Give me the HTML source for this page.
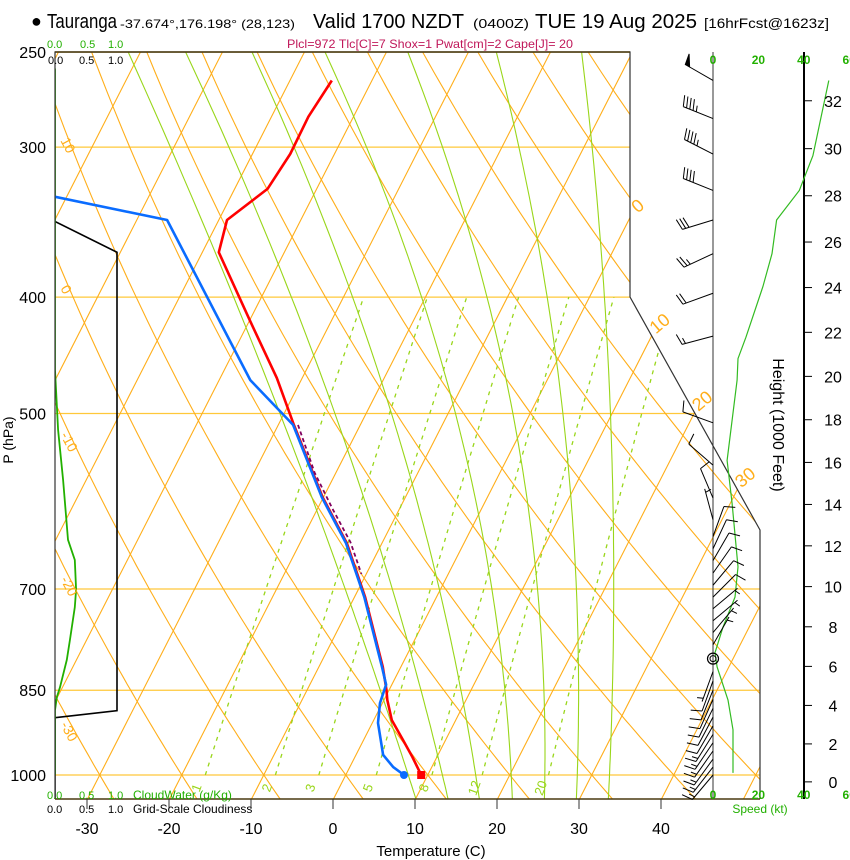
<!DOCTYPE html>
<html><head><meta charset="utf-8"><title>Skew-T Tauranga</title>
<style>
html,body{margin:0;padding:0;background:#fff;}
svg{display:block;font-family:"Liberation Sans",sans-serif;}
</style></head>
<body>
<svg id="chart" width="850" height="860" viewBox="0 0 850 860" xmlns="http://www.w3.org/2000/svg">
<defs>
<clipPath id="plotclip"><polygon points="55,52 630,52 630,297 760,530 760,799 55,799"/></clipPath>
<clipPath id="boxclip"><rect x="55" y="52" width="705" height="747"/></clipPath>
</defs>
<g id="grid" clip-path="url(#plotclip)"></g>
<g id="profiles" clip-path="url(#boxclip)"></g>
<g id="frame"></g>
<g id="wind"></g>
<g id="labels">
  <text x="31" y="27" font-size="18">●</text>
  <text x="47" y="28" font-size="20" textLength="70" lengthAdjust="spacingAndGlyphs">Tauranga</text>
  <text x="120" y="28" font-size="12" textLength="175" lengthAdjust="spacingAndGlyphs">-37.674°,176.198° (28,123)</text>
  <text x="313" y="28" font-size="20" textLength="151" lengthAdjust="spacingAndGlyphs">Valid 1700 NZDT</text>
  <text x="473" y="28" font-size="13" textLength="56" lengthAdjust="spacingAndGlyphs">(0400Z)</text>
  <text x="535" y="28" font-size="20" textLength="162" lengthAdjust="spacingAndGlyphs">TUE 19 Aug 2025</text>
  <text x="704" y="28" font-size="14" textLength="125" lengthAdjust="spacingAndGlyphs">[16hrFcst@1623z]</text>
  <text x="287" y="48" font-size="12" fill="#c0185a" textLength="286" lengthAdjust="spacingAndGlyphs">Plcl=972 Tlc[C]=7 Shox=1 Pwat[cm]=2 Cape[J]= 20</text>
  <text x="47" y="48" font-size="11" fill="#22b000">0.0</text>
  <text x="80" y="48" font-size="11" fill="#22b000">0.5</text>
  <text x="108" y="48" font-size="11" fill="#22b000">1.0</text>
  <text x="48" y="64" font-size="11">0.0</text>
  <text x="79" y="64" font-size="11">0.5</text>
  <text x="108" y="64" font-size="11">1.0</text>
  <text x="47" y="799" font-size="11" fill="#22b000">0.0</text>
  <text x="79" y="799" font-size="11" fill="#22b000">0.5</text>
  <text x="108" y="799" font-size="11" fill="#22b000">1.0</text>
  <text x="133" y="799" font-size="12" fill="#22b000">CloudWater (g/Kg)</text>
  <text x="47" y="813" font-size="11">0.0</text>
  <text x="79" y="813" font-size="11">0.5</text>
  <text x="108" y="813" font-size="11">1.0</text>
  <text x="133" y="813" font-size="12">Grid-Scale Cloudiness</text>
  <text x="431" y="856" font-size="15" text-anchor="middle">Temperature (C)</text>
  <text transform="translate(13,440) rotate(-90)" font-size="14" text-anchor="middle">P (hPa)</text>
  <text transform="translate(773,425) rotate(90)" font-size="16" text-anchor="middle">Height (1000 Feet)</text>
  <text x="760" y="813" font-size="12" fill="#22b000" text-anchor="middle">Speed (kt)</text>
</g>
</svg>
<script>
// ---------- data ----------
const tempP = [1000, 966, 935, 900, 866, 850, 813, 711, 641, 587, 511, 467, 418, 367, 345, 325, 304, 283, 264];
const tempT = [9.2, 7.0, 4.8, 2.2, 0.4, -0.3, -2.2, -8.7, -14.3, -20.1, -28.1, -33.1, -40.0, -48.0, -49.0, -46.0, -45.4, -45.5, -44.9];
const dewP = [1000, 985, 962, 905, 871, 841, 813, 711, 641, 587, 511, 469, 345, 330, 315];
const dewT = [7.1, 5.3, 3.3, 0.7, -0.3, -0.7, -2.3, -8.8, -14.4, -20.2, -28.2, -36.2, -56.3, -71.4, -86];
const parcelP = [511, 560, 600, 640, 680];
const parcelT = [-27.6, -22.6, -18.2, -13.9, -10.6];
const cloudFracP = [346, 367, 884, 896, 1050];
const cloudFrac = [0, 1, 1, 0, 0];
const cloudWaterP = [258, 460, 516, 568, 637, 662, 701, 725, 772, 802, 845, 861, 883, 1000];
const cloudWater = [0, 0, 0.05, 0.13, 0.21, 0.32, 0.34, 0.32, 0.24, 0.19, 0.08, 0.03, 0, 0];
const windP = [264, 284, 304, 326, 345, 368, 397, 431, 509, 552, 588, 613, 633, 648, 663, 679, 695, 711, 727, 744, 761, 779, 820, 835, 850, 865, 880, 895, 910, 925, 940, 955, 970, 985, 1000];
const windDir = [300, 292, 297, 292, 253, 245, 250, 255, 290, 311, 337, 345, 20, 25, 30, 35, 40, 45, 50, 50, 40, 30, 200, 200, 202, 204, 206, 208, 210, 212, 214, 215, 216, 218, 220];
const windSpd = [50, 45, 45, 40, 30, 25, 20, 15, 10, 10, 10, 5, 10, 10, 10, 10, 10, 10, 5, 5, 5, 5, 5, 10, 10, 10, 10, 10, 10, 15, 15, 15, 15, 15, 15];
const speedP = [264, 305, 326, 345, 368, 392, 432, 450, 469, 547, 594, 671, 711, 753, 791, 813, 866, 917, 996];
const speedKt = [51, 44, 38, 28, 26, 22, 14.5, 11, 10.6, 6.2, 8.4, 11, 9.7, 4.4, 0.9, 1.8, 6.6, 8.8, 8.8];
const pressureTicks = [250, 300, 400, 500, 700, 850, 1000];
const tempTicks = [-30, -20, -10, 0, 10, 20, 30, 40];
const heightTicks = [0, 2, 4, 6, 8, 10, 12, 14, 16, 18, 20, 22, 24, 26, 28, 30, 32];
const speedTicks = [0, 20, 40, 60];
const isotherms = [-130,-120,-110,-100,-90,-80,-70,-60,-50,-40,-30,-20,-10,0,10,20,30,40,50];
const isothermLabels = [0, 10, 20, 30];
const dryAdiabats = [-60,-50,-40,-30,-20,-10,0,10,20,30,40,50,60,70,80,90,100,110,120,130,140,150,160,170,180,190,200];
const dryLabels = [10, 0, -10, -20, -30];
const mixRatios = [1, 2, 3, 5, 8, 12, 20];
const moistT250 = [-71.5, -64.5, -56.4, -47.5, -37.4, -26.6, -16.2];
const moistT500 = [-30.5, -23.8, -16.9, -9.1, -2.1, 4.0, 9.8];
const moistT1050 = [10.2, 14.1, 17.9, 21.9, 25.8, 29.7, 33.6];
const lclP = 800;

// ---------- scales ----------
const NS = 'http://www.w3.org/2000/svg';
function yP(p){ return 775 - 521.5*Math.log(1000/p); }
function xT(T,p){ return 333 + 8.2*T + 0.51*(800 - yP(p)); }
function xCloud(v){ return 55 + 62*v; }
function xSpd(s){ return 713 + 2.27*s; }
function pOfH(h){ const m=h*304.8; return 1013.25*Math.pow(1-6.5e-3*m/288.15,5.256); }
function mk(tag, attrs, parent){ const e=document.createElementNS(NS,tag); for(const k in attrs) e.setAttribute(k,attrs[k]); parent.appendChild(e); return e; }
function pts(arr){ return arr.map(a=>a[0].toFixed(1)+','+a[1].toFixed(1)).join(' '); }

const grid=document.getElementById('grid');
const prof=document.getElementById('profiles');
const frame=document.getElementById('frame');
const wind=document.getElementById('wind');
const labels=document.getElementById('labels');

// isobars
pressureTicks.forEach(p=>{
  const l=mk('line',{x1:55,x2:760,y1:yP(p),y2:yP(p),stroke:'#ffc83a','stroke-width':1.2},grid);
  
  
});
// isotherms
isotherms.forEach(T=>{
  const l=mk('line',{x1:xT(T,1050),y1:yP(1050),x2:xT(T,250),y2:yP(250),stroke:'#ffae1a','stroke-width':1.1},grid);
  
  
});
// dry adiabats
dryAdiabats.forEach(th=>{
  const a=[];
  for(let p=1050;p>=245;p-=10){ const T=(th+273.15)*Math.pow(p/1000,0.286)-273.15; a.push([xT(T,p),yP(p)]); }
  const l=mk('polyline',{points:pts(a),fill:'none',stroke:'#ffae1a','stroke-width':1.1},grid);
  
  
});
// moist adiabats
const la=Math.log(250), lb=Math.log(500), lc=Math.log(1050);
moistT250.forEach((t1,i)=>{
  const t2=moistT500[i], t3=moistT1050[i];
  const a=[];
  for(let p=1050;p>=245;p-=10){
    const x=Math.log(p);
    const T=t1*(x-lb)*(x-lc)/((la-lb)*(la-lc))+t2*(x-la)*(x-lc)/((lb-la)*(lb-lc))+t3*(x-la)*(x-lb)/((lc-la)*(lc-lb));
    a.push([xT(T,p),yP(p)]);
  }
  const l=mk('polyline',{points:pts(a),fill:'none',stroke:'#99d61a','stroke-width':1.1},grid);
  
  
});
// mixing ratio lines
function tdOf(w,p){ const e=w*p/(622+w); const L=Math.log(e/6.112); return 243.5*L/(17.67-L); }
mixRatios.forEach(w=>{
  const a=[];
  for(let p=1000;p>=400;p-=10) a.push([xT(tdOf(w,p),p),yP(p)]);
  const l=mk('polyline',{points:pts(a),fill:'none',stroke:'#99d61a','stroke-width':1.3,'stroke-dasharray':'4,5'},grid);
  
  
  const p=1028, x=xT(tdOf(w,p),p), y=yP(p);
  const t=mk('text',{x:x,y:y,'font-size':13,fill:'#99d61a','text-anchor':'middle',transform:`rotate(-70 ${x} ${y})`},grid);
  t.textContent=String(w);
  
  
});
// dry adiabat labels (left)
dryLabels.forEach(th=>{
  let best=null;
  for(let p=250;p<=1050;p+=1){ const T=(th+273.15)*Math.pow(p/1000,0.286)-273.15; const x=xT(T,p); if(x>=62){best=p;break;} }
  if(best===null) return;
  const y=yP(best)+20;
  const t=mk('text',{x:58,y:y,'font-size':14,fill:'#ffae1a',transform:`rotate(62 62 ${y})`},labels);
  t.textContent=String(th);
  
  
});
// isotherm labels (right)
isothermLabels.forEach(T=>{
  let py=null;
  for(let p=250;p<=1050;p+=1){ const y=yP(p); const bx = y<=297?630:630+0.558*(y-297); if(xT(T,p)<=bx){py=p;break;} }
  if(py===null) return;
  const x=xT(T,py)+12, y=yP(py)-8;
  const t=mk('text',{x:x,y:y,'font-size':18,fill:'#ffae1a','text-anchor':'middle',transform:`rotate(-40 ${x} ${y})`},labels);
  t.textContent=String(T);
  
  
});

// ---------- profiles ----------
function line(P,V,fx,attrs,name){
  const a=P.map((p,i)=>[fx(V[i],p),yP(p)]);
  const l=mk('polyline',Object.assign({points:pts(a),fill:'none'},attrs),prof);
  
  
  return l;
}
line(cloudFracP,cloudFrac,(v)=>xCloud(v),{stroke:'#000','stroke-width':1.6},'cloudiness-line');
line(cloudWaterP,cloudWater,(v)=>xCloud(v),{stroke:'#22b000','stroke-width':1.8},'cloudwater-line');
line(tempP,tempT,xT,{stroke:'#ff0000','stroke-width':2.6,'stroke-linejoin':'round'},'temperature-line');
line(dewP,dewT,xT,{stroke:'#0a6cff','stroke-width':2.6,'stroke-linejoin':'round'},'dewpoint-line');
line(parcelP,parcelT,xT,{stroke:'#800060','stroke-width':1.8,'stroke-dasharray':'4,3'},'parcel-line');
const td=mk('circle',{cx:xT(dewT[0],dewP[0]),cy:yP(dewP[0]),r:4,fill:'#0a6cff'},prof);


const tt=mk('rect',{x:xT(tempT[0],tempP[0])-4,y:yP(tempP[0])-4,width:8,height:8,fill:'#ff0000'},prof);



// ---------- frame ----------
const fr=mk('polyline',{points:'55,799 55,52 630,52 630,297 760,530 760,799',fill:'none',stroke:'#333','stroke-width':1.2},frame);


const bl=mk('line',{x1:55,x2:760,y1:799,y2:799,stroke:'#4a3a10','stroke-width':1.5},frame);


const tl=mk('line',{x1:55,x2:630,y1:52,y2:52,stroke:'#4a3a10','stroke-width':1.5},frame);


pressureTicks.forEach(p=>{
  const t=mk('text',{x:46,y:yP(p)+6,'font-size':16,'text-anchor':'end'},labels);
  t.textContent=String(p);
  
  
});
tempTicks.forEach(T=>{
  const x=333+8.2*T;
  const k=mk('line',{x1:x,x2:x,y1:799,y2:809,stroke:'#333','stroke-width':1},frame);
  
  
  const t=mk('text',{x:x,y:834,'font-size':16,'text-anchor':'middle'},labels);
  t.textContent=String(T);
  
  
});

// ---------- wind panel ----------
const staff=mk('line',{x1:713,x2:713,y1:52,y2:799,stroke:'#333','stroke-width':1},wind);


const hax=mk('line',{x1:804,x2:804,y1:52,y2:799,stroke:'#000','stroke-width':2},wind);


heightTicks.forEach(h=>{
  const y=yP(pOfH(h));
  const k=mk('line',{x1:804,x2:812,y1:y,y2:y,stroke:'#000','stroke-width':1},wind);
  
  
  const t=mk('text',{x:833,y:y+6,'font-size':16,'text-anchor':'middle'},labels);
  t.textContent=String(h);
  
  
});
speedTicks.forEach(s=>{
  [64,799].forEach(yy=>{
    const t=mk('text',{x:xSpd(s),y:yy,'font-size':12,fill:'#22b000','font-weight':'bold','text-anchor':'middle'},labels);
    t.textContent=String(s);
    
    
  });
});
// speed curve
(function(){
  const a=speedP.map((p,i)=>[xSpd(speedKt[i]),yP(p)]);
  const l=mk('polyline',{points:pts(a),fill:'none',stroke:'#33bb22','stroke-width':1.2},wind);
  
  
})();
// barbs
windP.forEach((p,i)=>{
  const g=mk('g',{},wind);
  
  
  const sx=713, sy=yP(p), r=windDir[i]*Math.PI/180;
  const ux=Math.sin(r), uy=-Math.cos(r), L=32;
  const tx=sx+ux*L, ty=sy+uy*L;
  const px=-uy, py=ux;
  let d=`M${sx},${sy}L${tx.toFixed(1)},${ty.toFixed(1)}`;
  let s=Math.round(windSpd[i]/5)*5, pos=0;
  while(s>=50){
    const bx=tx-ux*pos, by=ty-uy*pos;
    d+=`M${bx.toFixed(1)},${by.toFixed(1)}L${(bx+px*11+ux*2).toFixed(1)},${(by+py*11+uy*2).toFixed(1)}L${(bx-ux*5).toFixed(1)},${(by-uy*5).toFixed(1)}Z`;
    pos+=6; s-=50;
  }
  while(s>=10){
    const bx=tx-ux*pos, by=ty-uy*pos;
    d+=`M${bx.toFixed(1)},${by.toFixed(1)}L${(bx+px*11+ux*3).toFixed(1)},${(by+py*11+uy*3).toFixed(1)}`;
    pos+=3.5; s-=10;
  }
  if(s>=5){
    if(pos===0) pos=3.5;
    const bx=tx-ux*pos, by=ty-uy*pos;
    d+=`M${bx.toFixed(1)},${by.toFixed(1)}L${(bx+px*6+ux*1.5).toFixed(1)},${(by+py*6+uy*1.5).toFixed(1)}`;
  }
  mk('path',{d:d,fill:'#000',stroke:'#000','stroke-width':1},g);
});
const lc1=mk('circle',{cx:713,cy:yP(lclP),r:5.5,fill:'none',stroke:'#000','stroke-width':1.2},wind);


const lc2=mk('circle',{cx:713,cy:yP(lclP),r:3,fill:'none',stroke:'#000','stroke-width':1},wind);


</script>
</body></html>
